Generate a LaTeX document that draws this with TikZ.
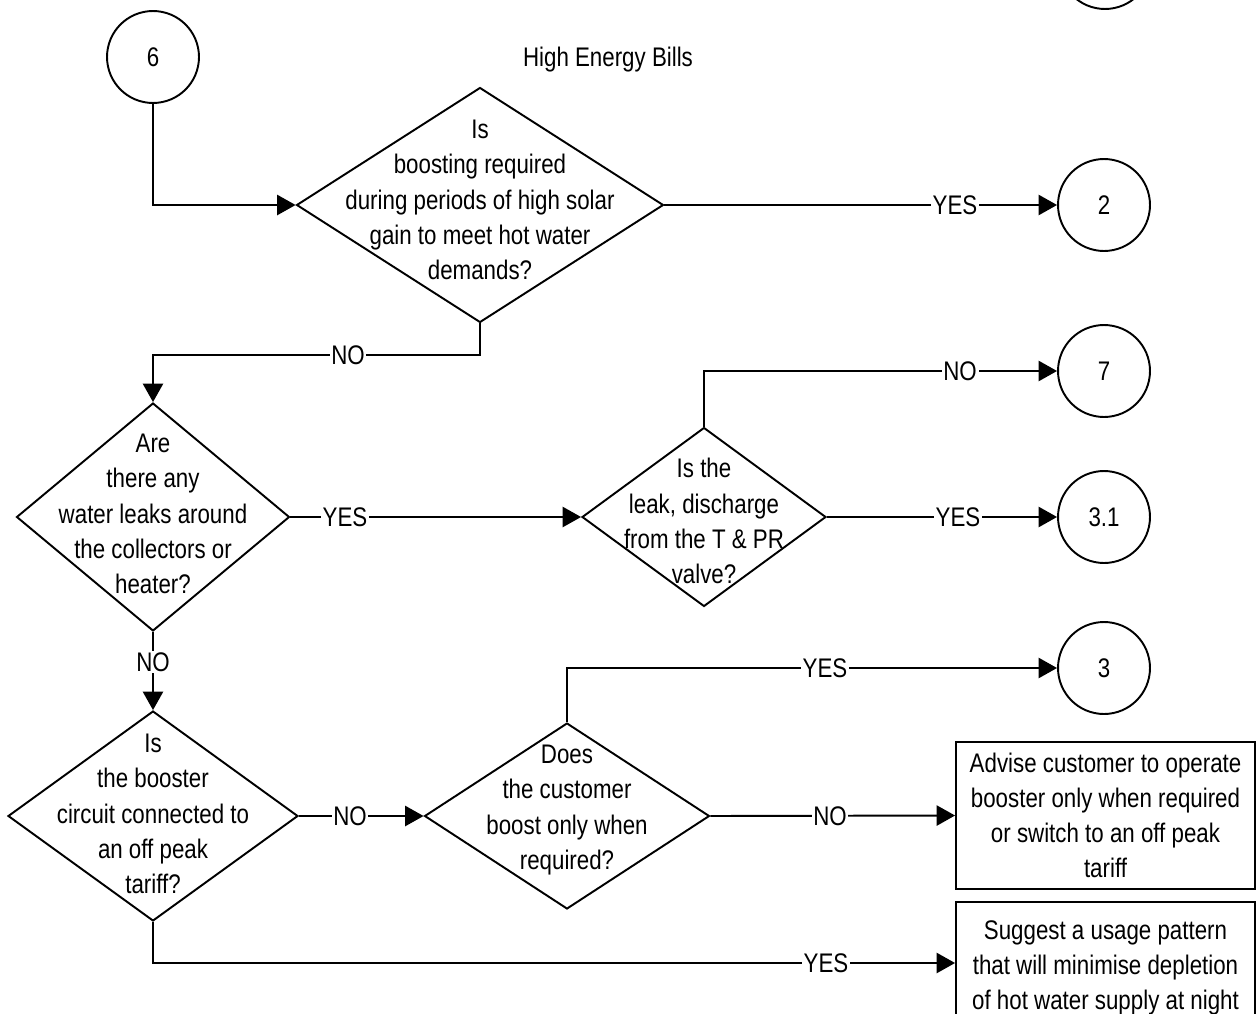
\documentclass[tikz,border=0pt]{standalone}
\usepackage{fontspec}
\setmainfont{Liberation Sans}[FakeStretch=0.83]
\usetikzlibrary{arrows.meta,shapes.geometric}

\begin{document}
\begin{tikzpicture}[x=0.02cm,y=-0.02cm,
  every node/.style={font=\fontsize{15.3}{20}\selectfont},
  flow/.style={draw, line width=1.1pt, -{Triangle[length=10.5pt,width=11.5pt]}},
  decision/.style={diamond, draw, line width=1.1pt, inner sep=0pt},
  conn/.style={circle, draw, line width=1.1pt, minimum size=1.84cm, inner sep=0pt},
  actionbox/.style={rectangle, draw, line width=1.1pt, minimum width=5.98cm, inner sep=0pt, align=center},
  qtext/.style={align=center, inner sep=0pt},
  lbl/.style={fill=white, inner sep=1pt}]
\useasboundingbox (0,0) rectangle (1258,1014);

% connector continued from the previous sheet
\node[conn] (c0) at (1105,-37) {};

\node[conn] (c6) at (153,57) {6};
\node (title) at (608,60) {High Energy Bills};

% decisions
\node[decision, minimum width=7.34cm, minimum height=4.7cm] (d1) at (480,205) {};
\node[qtext] (d1t) at (480,200) {Is\\boosting required\\during periods of high solar\\gain to meet hot water\\demands?};

\node[decision, minimum width=5.46cm, minimum height=4.56cm] (d2) at (153,517) {};
\node[qtext] (d2t) at (153,514) {Are\\there any\\water leaks around\\the collectors or\\heater?};

\node[decision, minimum width=4.88cm, minimum height=3.58cm] (d3) at (704,517) {};
\node[qtext] (d3t) at (704,521) {Is the\\leak, discharge\\from the T \& PR\\valve?};

\node[decision, minimum width=5.8cm, minimum height=4.2cm] (d4) at (153,816) {};
\node[qtext] (d4t) at (153,814) {Is\\the booster\\circuit connected to\\an off peak\\tariff?};

\node[decision, minimum width=5.7cm, minimum height=3.72cm] (d5) at (567,816) {};
\node[qtext] (d5t) at (567,810) {Does\\the customer\\boost only when\\required?};

% off-page connectors
\node[conn] (c2) at (1104,205) {2};
\node[conn] (c7) at (1104,371) {7};
\node[conn] (c31) at (1104,517) {3.1};
\node[conn] (c3) at (1104,668) {3};

% actions
\node[actionbox, minimum height=2.94cm] (b1) at (1105.5,815.5) {Advise customer to operate\\booster only when required\\or switch to an off peak\\tariff};
\node[actionbox, minimum height=2.64cm] (b2) at (1105.5,968) {Suggest a usage pattern\\that will minimise depletion\\of hot water supply at night};

% connectors
\coordinate (norow) at (0,355);
\draw[flow] (c6.south) |- (d1.west);
\draw[flow] (d1.east) -- (c2.west);
\draw[flow] (d1.south) -- (d1.south |- norow) -| (d2.north);
\draw[flow] (d2.east) -- (d3.west);
\draw[flow] (d3.north) |- (c7.west);
\draw[flow] (d3.east) -- (c31.west);
\draw[flow] (d2.south) -- (d4.north);
\draw[flow] (d4.east) -- (d5.west);
\draw[flow] (d5.north) |- (c3.west);
\draw[flow] (d5.east) -- (b1.west);
\draw[flow] (d4.south) |- ([yshift=0.1cm]b2.west);

% branch labels
\node[lbl] (yes1) at (955,205) {YES};
\node[lbl] (no1) at (348,355) {NO};
\node[lbl] (no2) at (960,371) {NO};
\node[lbl] (yes2) at (345,517) {YES};
\node[lbl] (yes3) at (958,517) {YES};
\node[lbl] (no3) at (153,662) {NO};
\node[lbl] (yes4) at (825,668) {YES};
\node[lbl] (no4) at (350,816) {NO};
\node[lbl] (no5) at (830,816) {NO};
\node[lbl] (yes5) at (826,963) {YES};
\end{tikzpicture}
\end{document}
